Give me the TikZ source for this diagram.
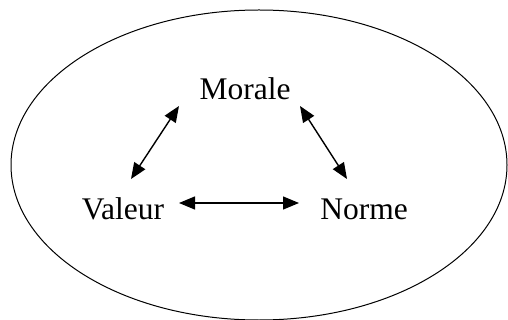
\documentclass[tikz,border=0pt]{standalone}
\usepackage{fontspec}
\setmainfont{Liberation Serif}
\usetikzlibrary{arrows.meta}
\begin{document}
\begin{tikzpicture}[x=1pt,y=-1pt,
  lbl/.style={inner sep=0pt,anchor=base,font=\fontsize{31.5}{38}\selectfont},
  link/.style={line width=1.4pt,{Triangle[length=16pt,width=13pt]}-{Triangle[length=16pt,width=13pt]}}]
\useasboundingbox (0,0) rectangle (508,320);
\draw[line width=1pt] (259,165) ellipse [x radius=248, y radius=155];
\node[lbl] (m) at (245,100) {Morale};
\node[lbl] (v) at (123,220) {Valeur};
\node[lbl] (n) at (364,220) {Norme};
\coordinate (vm1) at (131,179);
\coordinate (vm2) at (179,106);
\coordinate (mn1) at (300,106);
\coordinate (mn2) at (347,179);
\coordinate (vn1) at (179,203);
\coordinate (vn2) at (299,203);
\draw[link] (vm1) -- (vm2);
\draw[link] (mn1) -- (mn2);
\draw[link] (vn1) -- (vn2);
\end{tikzpicture}
\end{document}
